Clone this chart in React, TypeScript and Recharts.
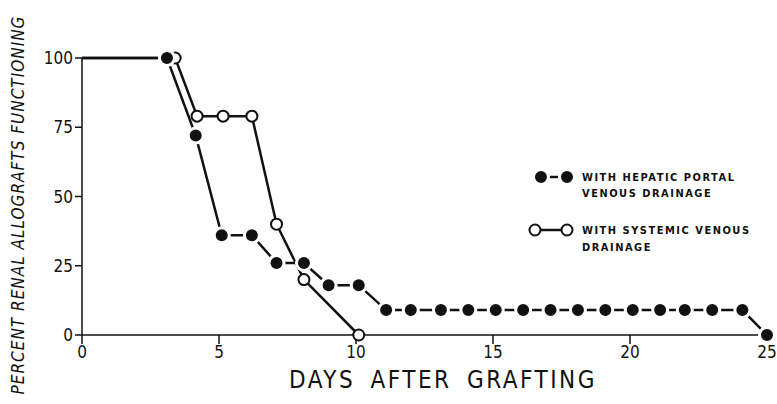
import { Line, LineChart, XAxis, YAxis } from 'recharts'

const hepaticDays = [0, 3.1, 4.15, 5.1, 6.2, 7.1, 8.1, 9.0, 10.1, 11.1, 12.0, 13.1, 14.1, 15.1, 16.1, 17.1, 18.1, 19.1, 20.1, 21.1, 22.0, 23.0, 24.1, 25]
const hepaticPct = [100, 100, 72, 36, 36, 26, 26, 18, 18, 9, 9, 9, 9, 9, 9, 9, 9, 9, 9, 9, 9, 9, 9, 0]
const systemicDays = [0, 3.4, 4.2, 5.15, 6.2, 7.1, 8.1, 10.1]
const systemicPct = [100, 100, 79, 79, 79, 40, 20, 0]
const xTicks = [0, 5, 10, 15, 20, 25]
const yTicks = [0, 25, 50, 75, 100]

const hepatic = hepaticDays.map((day, i) => ({ day, pct: hepaticPct[i] }))
const systemic = systemicDays.map((day, i) => ({ day, pct: systemicPct[i] }))

const FONT = "'DejaVu Sans Condensed', 'Liberation Sans Narrow', 'DejaVu Sans', sans-serif"
const INK = '#111'

function FilledDot(props: any) {
  const { cx, cy, index } = props
  if (index === 0) return <g key={`f${index}`} />
  return <circle key={`f${index}`} cx={cx} cy={cy} r={7.5} fill={INK} stroke="#fff" strokeWidth={3} />
}

function OpenDot(props: any) {
  const { cx, cy, index } = props
  if (index === 0) return <g key={`o${index}`} />
  return <circle key={`o${index}`} cx={cx} cy={cy} r={5.5} fill="#fff" stroke={INK} strokeWidth={2} />
}

// legend drawn by hand, it sits in the empty right half of the plot
function ChartLegend() {
  const text = { fontFamily: FONT, fontSize: 11, fontWeight: 700, letterSpacing: 1.5, fill: INK }
  return (
    <svg width={245} height={95} style={{ position: 'absolute', left: 527, top: 167 }}>
      <line x1={14} x2={40} y1={10} y2={10} stroke={INK} strokeWidth={2.5} />
      <circle cx={14} cy={10} r={7.5} fill={INK} stroke="#fff" strokeWidth={3} />
      <circle cx={40} cy={10} r={7.5} fill={INK} stroke="#fff" strokeWidth={3} />
      <text x={55} y={14} {...text}>WITH HEPATIC PORTAL</text>
      <text x={55} y={30} {...text}>VENOUS DRAINAGE</text>
      <line x1={8} x2={40} y1={63} y2={63} stroke={INK} strokeWidth={2.5} />
      <circle cx={8} cy={63} r={5.5} fill="#fff" stroke={INK} strokeWidth={2} />
      <circle cx={40} cy={63} r={5.5} fill="#fff" stroke={INK} strokeWidth={2} />
      <text x={55} y={67} {...text}>WITH SYSTEMIC VENOUS</text>
      <text x={55} y={84} {...text}>DRAINAGE</text>
    </svg>
  )
}

export default function App() {
  return (
    <div style={{ position: 'absolute', left: 0, top: 0, width: 777, height: 404, background: '#fff' }}>
      <LineChart width={777} height={404} margin={{ top: 58, right: 10, left: 32, bottom: 39 }}>
        <XAxis
          type="number"
          dataKey="day"
          domain={[0, 25]}
          ticks={xTicks}
          allowDuplicatedCategory={false}
          height={30}
          stroke={INK}
          strokeWidth={1.5}
          tickSize={9}
          tick={{ fill: INK, fontSize: 17, fontFamily: FONT }}
        />
        <YAxis
          type="number"
          dataKey="pct"
          domain={[0, 100]}
          ticks={yTicks}
          width={50}
          stroke={INK}
          strokeWidth={1.5}
          tickSize={7}
          tick={{ fill: INK, fontSize: 17, fontFamily: FONT }}
        />
        <Line
          data={systemic}
          dataKey="pct"
          stroke={INK}
          strokeWidth={2.5}
          dot={OpenDot}
          activeDot={false}
          isAnimationActive={false}
        />
        <Line
          data={hepatic}
          dataKey="pct"
          stroke={INK}
          strokeWidth={2.5}
          dot={FilledDot}
          activeDot={false}
          isAnimationActive={false}
        />
      </LineChart>
      <ChartLegend />
      <div
        style={{
          position: 'absolute',
          left: 18,
          top: 205,
          transform: 'translate(-50%, -50%) rotate(-90deg)',
          whiteSpace: 'nowrap',
          fontFamily: FONT,
          fontStyle: 'italic',
          fontSize: 17,
          letterSpacing: 1,
          color: INK,
        }}
      >
        PERCENT RENAL ALLOGRAFTS FUNCTIONING
      </div>
      <div
        style={{
          position: 'absolute',
          left: 443,
          top: 380,
          transform: 'translate(-50%, -50%)',
          whiteSpace: 'nowrap',
          fontFamily: FONT,
          fontSize: 24,
          letterSpacing: 2.5,
          wordSpacing: 6,
          color: INK,
        }}
      >
        DAYS AFTER GRAFTING
      </div>
    </div>
  )
}
